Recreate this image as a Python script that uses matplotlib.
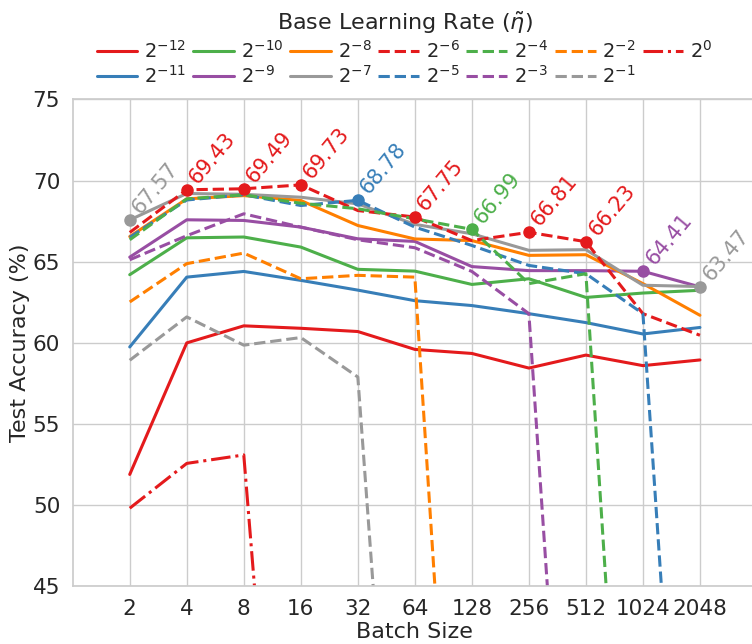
import numpy as np
import matplotlib
matplotlib.use("Agg")
import matplotlib.pyplot as plt
import seaborn as sns

sns.set_theme(style="whitegrid")
plt.rcParams['font.family'] = ['DejaVu Sans']

batch_sizes = [2, 4, 8, 16, 32, 64, 128, 256, 512, 1024, 2048]
lr_exponents = [-12, -11, -10, -9, -8, -7, -6, -5, -4, -3, -2, -1, 0]

acc_m12 = [51.9, 60.0, 61.05, 60.9, 60.7, 59.6, 59.35, 58.45, 59.25, 58.6, 58.95]
acc_m11 = [59.75, 64.05, 64.4, 63.85, 63.25, 62.6, 62.3, 61.8, 61.25, 60.55, 60.95]
acc_m10 = [64.2, 66.47, 66.52, 65.9, 64.53, 64.42, 63.6, 63.95, 62.8, 63.07, 63.24]
acc_m9 = [65.28, 67.58, 67.54, 67.13, 66.41, 66.25, 64.7, 64.45, 64.45, 64.41, 63.45]
acc_m8 = [66.55, 68.87, 69.07, 68.77, 67.23, 66.4, 66.3, 65.39, 65.43, 63.65, 61.7]
acc_m7 = [67.57, 69.2, 69.15, 68.97, 68.56, 67.3, 66.72, 65.7, 65.74, 63.55, 63.47]
acc_m6 = [66.8, 69.43, 69.49, 69.73, 68.15, 67.75, 66.3, 66.81, 66.23, 61.8, 60.47]
acc_m5 = [66.5, 68.8, 69.12, 68.46, 68.78, 67.13, 66.0, 64.77, 64.26, 61.8, 10.0]
acc_m4 = [66.35, 68.87, 69.12, 68.6, 68.26, 67.64, 66.99, 63.65, 64.26, 10.0, 10.0]
acc_m3 = [65.12, 66.6, 67.95, 67.13, 66.35, 65.86, 64.4, 61.8, 10.0, 10.0, 10.0]
acc_m2 = [62.52, 64.88, 65.53, 63.95, 64.16, 64.05, 10.0, 10.0, 10.0, 10.0, 10.0]
acc_m1 = [58.93, 61.6, 59.86, 60.33, 57.9, 10.0, 10.0, 10.0, 10.0, 10.0, 10.0]
acc_0 = [49.82, 52.58, 53.1, 10.0, 10.0, 10.0, 10.0, 10.0, 10.0, 10.0, 10.0]

series = [acc_m12, acc_m11, acc_m10, acc_m9, acc_m8, acc_m7, acc_m6,
          acc_m5, acc_m4, acc_m3, acc_m2, acc_m1, acc_0]

red, blue, green, purple, orange, gray = ("#e41a1c", "#377eb8", "#4daf4a",
                                          "#984ea3", "#ff7f00", "#999999")
colors = [red, blue, green, purple, orange, gray,
          red, blue, green, purple, orange, gray, red]
styles = ['-'] * 6 + ['--'] * 6 + ['-.']

fig = plt.figure(figsize=(7.52, 6.44), dpi=100)
ax = fig.add_axes([0.0967, 0.0893, 0.9099, 0.7565])

xpos = np.log2(batch_sizes)
data = np.array(series)
for e, vals, c, ls in zip(lr_exponents, series, colors, styles):
    ax.plot(xpos, vals, color=c, ls=ls, lw=2.2, label=f"$2^{{{e}}}$")

# best per batch size
best_idx = np.argmax(data, axis=0)
for j, i in enumerate(best_idx):
    v = data[i, j]
    ax.plot(xpos[j], v, 'o', color=colors[i], ms=8, zorder=5)
    ax.annotate(f"{v:.2f}", (xpos[j], v), xytext=(8, 3.5), textcoords='offset points',
                rotation=50, rotation_mode='anchor', ha='left', va='baseline',
                color=colors[i], fontsize=15, annotation_clip=False)

ax.set_xlim(0, 12)
ax.set_ylim(45, 75)
ax.set_xticks(xpos)
ax.set_xticklabels([str(b) for b in batch_sizes])
ax.set_yticks([45, 50, 55, 60, 65, 70, 75])
ax.tick_params(labelsize=15.5, pad=3)
ax.set_xlabel("Batch Size", fontsize=16, labelpad=2)
ax.set_ylabel("Test Accuracy (%)", fontsize=16, labelpad=2)

leg = ax.legend(ncol=7, loc='lower center', bbox_to_anchor=(0.485, 1.005),
                frameon=False, fontsize=14, title=r"Base Learning Rate ($\tilde{\eta}$)",
                title_fontsize=16, handlelength=2.1, handletextpad=0.35,
                columnspacing=0.35, labelspacing=0.2, borderaxespad=0.1)

fig.savefig("out.png", dpi=100)
